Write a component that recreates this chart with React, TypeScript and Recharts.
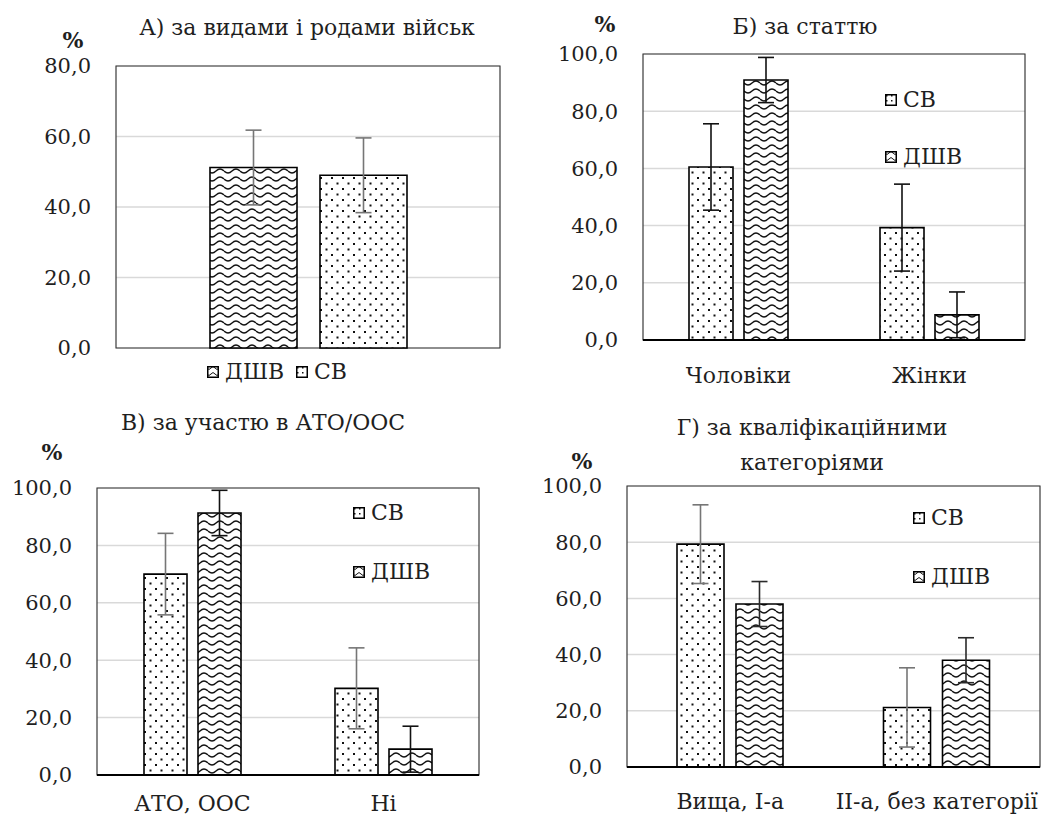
import React from "react";
import { BarChart, Bar, XAxis, YAxis, CartesianGrid, ErrorBar, ReferenceArea } from "recharts";

const FONT = '"DejaVu Serif", serif';
const INK = "#1f1f1f";
const GRAY_ERR = "#767676";

// А) за видами і родами військ
const catsA = [""];
const dshvA = [51.2];
const dshvErrA = [10.6];
const svA = [49.0];
const svErrA = [10.6];

// Б) за статтю
const catsB = ["Чоловіки", "Жінки"];
const svB = [60.5, 39.3];
const svErrB = [15.1, 15.2];
const dshvB = [90.9, 8.8];
const dshvErrB = [7.9, 8.0];

// В) за участю в АТО/ООС
const catsC = ["АТО, ООС", "Ні"];
const svC = [70.0, 30.2];
const svErrC = [14.2, 14.1];
const dshvC = [91.3, 9.0];
const dshvErrC = [7.9, 8.0];

// Г) за кваліфікаційними категоріями
const catsD = ["Вища, І-а", "ІІ-а, без категорії"];
const svD = [79.3, 21.2];
const svErrD = [14.0, 14.1];
const dshvD = [58.0, 38.0];
const dshvErrD = [8.0, 8.0];

const ticks80 = [0, 20, 40, 60, 80];
const ticks100 = [0, 20, 40, 60, 80, 100];

const fmt = (v: number) => v.toFixed(1).replace(".", ",");

function rowsOf(cats: string[], sv: number[], svErr: number[], dshv: number[], dshvErr: number[]) {
  return cats.map((name, i) => ({ name, sv: sv[i], svErr: svErr[i], dshv: dshv[i], dshvErr: dshvErr[i] }));
}

function Patterns({ id }: { id: string }) {
  return (
    <defs>
      <pattern id={`dots-${id}`} patternUnits="userSpaceOnUse" width={11} height={11}>
        <rect width={11} height={11} fill="#fff" />
        <rect x={1} y={1} width={2} height={2} fill="#111" />
        <rect x={6.5} y={6.5} width={2} height={2} fill="#111" />
      </pattern>
      <pattern id={`wave-${id}`} patternUnits="userSpaceOnUse" width={16} height={8}>
        <rect width={16} height={8} fill="#fff" />
        <path d="M0 3 Q4 7 8 3 T16 3" fill="none" stroke="#111" strokeWidth={1.3} />
      </pattern>
    </defs>
  );
}

type PanelProps = {
  id: string;
  rows: ReturnType<typeof rowsOf>;
  order: ("sv" | "dshv")[];
  yMax: number;
  ticks: number[];
  box: { left: number; top: number; width: number; height: number };
  margin: { top: number; right: number; bottom: number; left: number };
  xHeight: number;
  xMargin: number;
  barSize: number;
  barGap: number;
  errColor: { sv: string; dshv: string };
  showX: boolean;
  axisWidth: number;
};

function Panel(p: PanelProps) {
  return (
    <div style={{ position: "absolute", left: p.box.left, top: p.box.top }}>
      <BarChart
        width={p.box.width}
        height={p.box.height}
        data={p.rows}
        margin={p.margin}
        barSize={p.barSize}
        barGap={p.barGap}
      >
        <Patterns id={p.id} />
        <CartesianGrid vertical={false} stroke="#d9d9d9" strokeWidth={1.5} />
        <XAxis
          dataKey="name"
          height={p.xHeight}
          tick={p.showX ? { fill: INK, fontSize: 22, fontFamily: FONT } : false}
          tickLine={false}
          tickSize={0}
          tickMargin={p.xMargin}
          axisLine={{ stroke: "#000", strokeWidth: p.axisWidth }}
          interval={0}
        />
        <YAxis
          width={60}
          domain={[0, p.yMax]}
          ticks={p.ticks}
          tickFormatter={fmt}
          tick={{ fill: INK, fontSize: 21, fontFamily: FONT }}
          tickLine={false}
          axisLine={false}
          tickSize={0}
          tickMargin={25}
        />
        <ReferenceArea y1={0} y2={p.yMax} fill="none" stroke="#3a3a3a" strokeWidth={1.2} ifOverflow="visible" />
        {p.order.map((k) => (
          <Bar
            key={k}
            dataKey={k}
            fill={k === "sv" ? `url(#dots-${p.id})` : `url(#wave-${p.id})`}
            stroke="#000"
            strokeWidth={1.6}
            isAnimationActive={false}
          >
            <ErrorBar
              dataKey={k === "sv" ? "svErr" : "dshvErr"}
              width={8}
              stroke={p.errColor[k]}
              strokeWidth={1.6}
              direction="y"
              isAnimationActive={false}
            />
          </Bar>
        ))}
      </BarChart>
    </div>
  );
}

function Txt({ x, y, size = 22, bold = false, children }: { x: number; y: number; size?: number; bold?: boolean; children: React.ReactNode }) {
  return (
    <div
      style={{
        position: "absolute",
        left: x,
        top: y,
        transform: "translate(-50%, -50%)",
        whiteSpace: "nowrap",
        fontSize: size,
        fontWeight: bold ? 700 : 400,
        lineHeight: 1,
      }}
    >
      {children}
    </div>
  );
}

function LegendItem({ x, y, kind, label, id }: { x: number; y: number; kind: "sv" | "dshv"; label: string; id: string }) {
  return (
    <div style={{ position: "absolute", left: x, top: y, transform: "translateY(-50%)", display: "flex", alignItems: "center", fontSize: 22, lineHeight: 1, whiteSpace: "nowrap" }}>
      <svg width={12} height={12} style={{ marginRight: 6 }}>
        <defs>
          <pattern id={`lg-${id}`} patternUnits="userSpaceOnUse" width={kind === "sv" ? 5 : 8} height={kind === "sv" ? 5 : 6}>
            <rect width={8} height={8} fill="#fff" />
            {kind === "sv" ? (
              <rect x={1} y={1} width={1.5} height={1.5} fill="#111" />
            ) : (
              <path d="M0 2 Q2 5 4 2 T8 2" fill="none" stroke="#111" strokeWidth={1} />
            )}
          </pattern>
        </defs>
        <rect x={0.75} y={0.75} width={10.5} height={10.5} fill={`url(#lg-${id})`} stroke="#000" strokeWidth={1.5} />
      </svg>
      <span>{label}</span>
    </div>
  );
}

export default function App() {
  return (
    <div
      style={{
        position: "absolute",
        left: 0,
        top: 0,
        width: 1041,
        height: 816,
        background: "#fff",
        fontFamily: FONT,
        color: INK,
        overflow: "hidden",
      }}
    >
      <Panel
        id="a"
        rows={rowsOf(catsA, svA, svErrA, dshvA, dshvErrA)}
        order={["dshv", "sv"]}
        yMax={80}
        ticks={ticks80}
        box={{ left: 0, top: 0, width: 520, height: 400 }}
        margin={{ top: 66, right: 20, bottom: 52, left: 56 }}
        xHeight={0}
        xMargin={27}
        barSize={87}
        barGap={23}
        errColor={{ sv: GRAY_ERR, dshv: GRAY_ERR }}
        showX={false}
        axisWidth={1.2}
      />
      <Panel
        id="b"
        rows={rowsOf(catsB, svB, svErrB, dshvB, dshvErrB)}
        order={["sv", "dshv"]}
        yMax={100}
        ticks={ticks100}
        box={{ left: 520, top: 0, width: 521, height: 400 }}
        margin={{ top: 54, right: 16, bottom: 10, left: 63 }}
        xHeight={50}
        xMargin={27}
        barSize={44}
        barGap={11}
        errColor={{ sv: "#111", dshv: "#111" }}
        showX
        axisWidth={2}
      />
      <Panel
        id="c"
        rows={rowsOf(catsC, svC, svErrC, dshvC, dshvErrC)}
        order={["sv", "dshv"]}
        yMax={100}
        ticks={ticks100}
        box={{ left: 0, top: 400, width: 520, height: 416 }}
        margin={{ top: 88, right: 41, bottom: 0, left: 37 }}
        xHeight={41}
        xMargin={20}
        barSize={43}
        barGap={11}
        errColor={{ sv: GRAY_ERR, dshv: "#111" }}
        showX
        axisWidth={2}
      />
      <Panel
        id="d"
        rows={rowsOf(catsD, svD, svErrD, dshvD, dshvErrD)}
        order={["sv", "dshv"]}
        yMax={100}
        ticks={ticks100}
        box={{ left: 520, top: 400, width: 521, height: 416 }}
        margin={{ top: 86, right: 1, bottom: 0, left: 47 }}
        xHeight={49}
        xMargin={26}
        barSize={47}
        barGap={12}
        errColor={{ sv: GRAY_ERR, dshv: "#2a2a2a" }}
        showX
        axisWidth={2}
      />

      <Txt x={307} y={28}>А) за видами і родами військ</Txt>
      <Txt x={73} y={40} bold>%</Txt>
      <LegendItem id="a1" x={207} y={372} kind="dshv" label="ДШВ" />
      <LegendItem id="a2" x={296} y={372} kind="sv" label="СВ" />

      <Txt x={805} y={27}>Б) за статтю</Txt>
      <Txt x={605} y={24} bold>%</Txt>
      <LegendItem id="b1" x={885} y={100} kind="sv" label="СВ" />
      <LegendItem id="b2" x={885} y={157} kind="dshv" label="ДШВ" />

      <Txt x={263} y={423}>В) за участю в АТО/ООС</Txt>
      <Txt x={52} y={452} bold>%</Txt>
      <LegendItem id="c1" x={353} y={513} kind="sv" label="СВ" />
      <LegendItem id="c2" x={353} y={572} kind="dshv" label="ДШВ" />

      <Txt x={812} y={428}>Г) за кваліфікаційними</Txt>
      <Txt x={812} y={463}>категоріями</Txt>
      <Txt x={582} y={461} bold>%</Txt>
      <LegendItem id="d1" x={913} y={518} kind="sv" label="СВ" />
      <LegendItem id="d2" x={913} y={577} kind="dshv" label="ДШВ" />
    </div>
  );
}
